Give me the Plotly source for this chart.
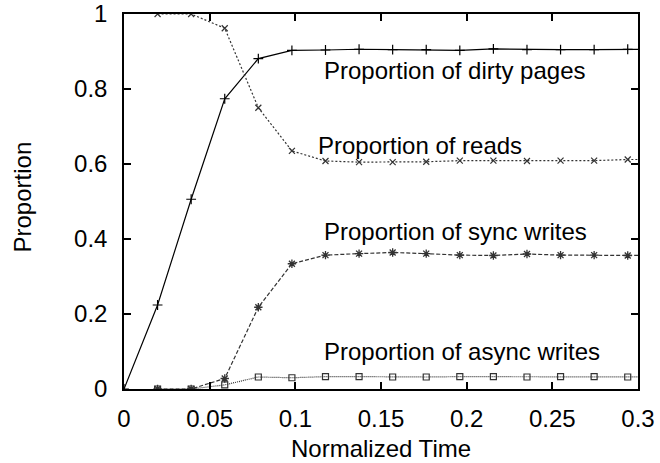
import plotly.graph_objects as go

# Normalized time samples
time = [i * 0.0196 for i in range(17)]

dirty_x = time[0:17]
dirty = [0.0, 0.224, 0.506, 0.774, 0.881, 0.903, 0.904, 0.906, 0.905, 0.905, 0.903,
         0.907, 0.905, 0.905, 0.905, 0.906, 0.906]

reads_x = time[1:17]
reads = [1.0, 1.0, 0.962, 0.750, 0.635, 0.608, 0.605, 0.605, 0.606, 0.609, 0.609,
         0.608, 0.609, 0.609, 0.612, 0.612]

sync_x = time[1:17]
sync = [0.0, 0.0, 0.028, 0.218, 0.334, 0.357, 0.361, 0.364, 0.361, 0.357, 0.356,
        0.360, 0.357, 0.357, 0.356, 0.356]

async_x = time[1:17]
async_w = [0.0, 0.0, 0.011, 0.032, 0.030, 0.033, 0.033, 0.032, 0.032, 0.033, 0.033,
           0.032, 0.033, 0.033, 0.032, 0.032]

x_ticks = [0, 0.05, 0.1, 0.15, 0.2, 0.25, 0.3]
x_tick_labels = ["0", "0.05", "0.1", "0.15", "0.2", "0.25", "0.3"]
y_ticks = [0, 0.2, 0.4, 0.6, 0.8, 1.0]
y_tick_labels = ["0", "0.2", "0.4", "0.6", "0.8", "1"]

labels = ["Proportion of dirty pages", "Proportion of reads",
          "Proportion of sync writes", "Proportion of async writes"]
label_x = [0.1153, 0.112, 0.1155, 0.1155]
label_y = [0.849, 0.649, 0.419, 0.100]

FONT = "Liberation Sans, Arial, Helvetica, sans-serif"
FS = 24

fig = go.Figure()
fig.add_trace(go.Scatter(x=dirty_x, y=dirty, mode="lines+markers",
                         line=dict(color="black", width=1.2),
                         marker=dict(symbol="cross-thin-open", size=7,
                                     line=dict(color="black", width=1.2))))
fig.add_trace(go.Scatter(x=reads_x, y=reads, mode="lines+markers",
                         line=dict(color="#333", width=1.2, dash="2px,2px"),
                         marker=dict(symbol="x-thin-open", size=6,
                                     line=dict(color="black", width=1.2))))
fig.add_trace(go.Scatter(x=sync_x, y=sync, mode="lines+markers",
                         line=dict(color="#333", width=1.2, dash="4px,2px"),
                         marker=dict(symbol="asterisk-open", size=7,
                                     line=dict(color="black", width=1.3))))
fig.add_trace(go.Scatter(x=async_x, y=async_w, mode="lines+markers",
                         line=dict(color="#333", width=1.2, dash="1px,1px"),
                         marker=dict(symbol="square-open", size=6,
                                     line=dict(color="black", width=1.2))))

for t, lx, ly in zip(labels, label_x, label_y):
    fig.add_annotation(x=lx, y=ly, xref="x", yref="y", text=t, showarrow=False,
                       xanchor="left", yanchor="middle",
                       font=dict(family=FONT, size=FS, color="black"))

fig.add_annotation(x=0.5, y=0, xref="paper", yref="paper", text="Normalized Time",
                   showarrow=False, xanchor="center", yanchor="middle",
                   yshift=-59.5, font=dict(family=FONT, size=FS, color="black"))
fig.add_annotation(x=0, y=0.5, xref="paper", yref="paper", text="Proportion",
                   showarrow=False, xanchor="center", yanchor="middle", textangle=-90,
                   xshift=-102, yshift=4, font=dict(family=FONT, size=FS, color="black"))

axis_common = dict(showgrid=False, zeroline=False, showline=True, linecolor="black",
                   linewidth=1.5, mirror="ticks", ticks="inside", ticklen=7,
                   tickwidth=1.5, tickcolor="black", automargin=False,
                   tickfont=dict(family=FONT, size=FS, color="black"))

fig.update_layout(
    width=660, height=463,
    margin=dict(l=124, r=22, t=14, b=74),
    paper_bgcolor="white", plot_bgcolor="white",
    showlegend=False,
    xaxis=dict(range=[0, 0.3], tickvals=x_ticks, ticktext=x_tick_labels,
               ticklabelstandoff=7, **axis_common),
    yaxis=dict(range=[0, 1], tickvals=y_ticks, ticktext=y_tick_labels,
               ticklabelstandoff=10, **axis_common),
)

fig.write_html("out.html")
